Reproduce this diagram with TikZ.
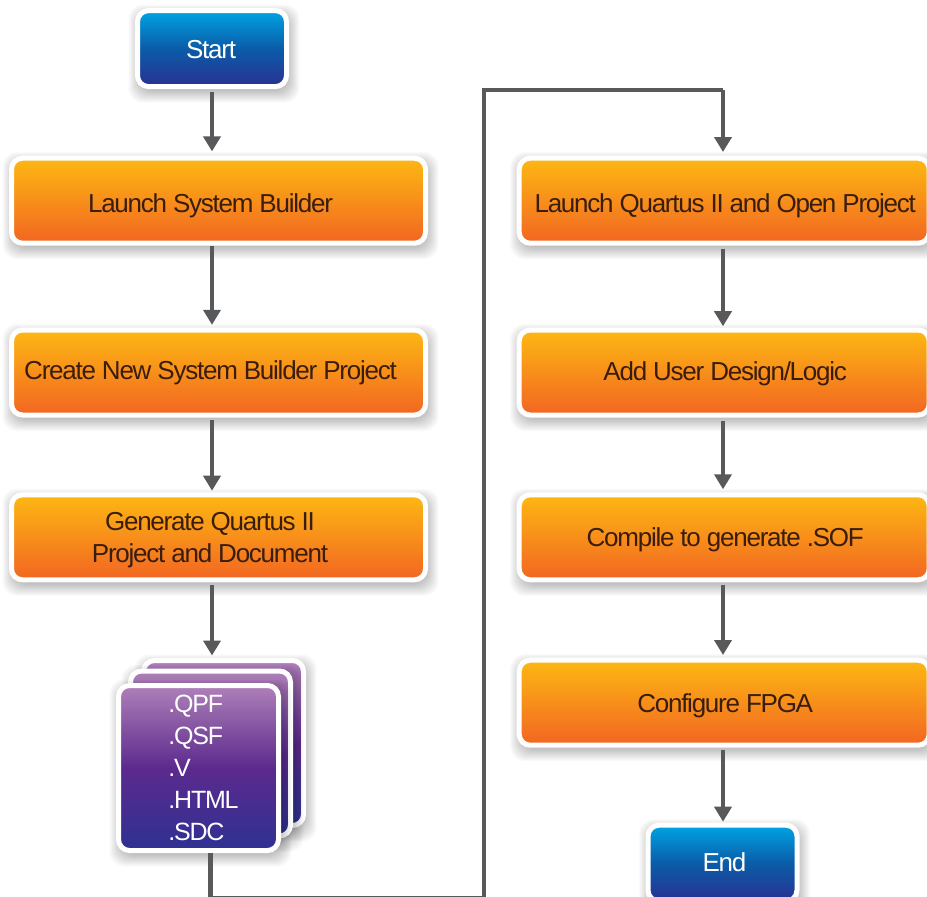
\documentclass[tikz,border=0pt]{standalone}
\usepackage{fontspec}
\setmainfont[LetterSpace=-4.8]{Liberation Sans}
\usetikzlibrary{arrows.meta}
\definecolor{orangetop}{HTML}{FDB813}
\definecolor{orangebot}{HTML}{F26522}
\definecolor{bluetop}{HTML}{00A4E4}
\definecolor{bluemid}{HTML}{0A5CA8}
\definecolor{bluebot}{HTML}{2A3192}
\definecolor{purpletop}{HTML}{AE80B8}
\definecolor{purplemid}{HTML}{5C2A8E}
\definecolor{purplebot}{HTML}{2E3192}
\definecolor{linegray}{HTML}{58595B}
\definecolor{darktext}{HTML}{3A1D0C}
\newcommand{\boxtext}[3]{\raisebox{#2}[0pt][0pt]{\hspace*{#1}#3}}
% soft shadow: centre x, centre y, path width, path height
\newcommand{\softshadow}[4]{%
  \foreach \r in {-4,...,11}{%
    \fill[black,opacity=0.021,rounded corners=14pt]
      ({#1-#3/2+2-\r},{#2-#4/2+5-\r}) rectangle ({#1+#3/2+2+\r},{#2+#4/2+5+\r});
  }}
\tikzset{
  basebox/.style={draw=white,line width=5pt,rounded corners=11pt,inner sep=0pt},
  orangebox/.style={basebox,top color=orangetop,bottom color=orangebot,text=darktext,minimum height=85pt,
     font=\fontsize{26}{31.5}\selectfont},
  leftbox/.style={orangebox,minimum width=414pt},
  rightbox/.style={orangebox,minimum width=410pt},
  bluebox/.style={basebox,top color=bluetop,bottom color=bluebot,middle color=bluemid,text=white,
     minimum width=149pt,minimum height=76pt,font=\fontsize{26}{31.5}\selectfont},
  purplebox/.style={basebox,top color=purpletop,bottom color=purplebot,middle color=purplemid,text=white,
     minimum width=160pt,minimum height=165pt,font=\fontsize{25}{31.8}\selectfont},
  flow/.style={draw=linegray,line width=4.5pt,-{Triangle[width=17pt,length=15pt]}},
  flowplain/.style={draw=linegray,line width=4.5pt}
}
\begin{document}
\begin{tikzpicture}[x=1pt,y=-1pt]
\useasboundingbox (0,0) rectangle (927,897);
\clip (0,0) rectangle (927,897);
\fill[white] (0,0) rectangle (927,897);
% left column
\softshadow{212}{48.6}{149}{76}
\node[bluebox] (start) at (212,48.6) {\boxtext{-2pt}{-9.4pt}{Start}};
\softshadow{218.5}{200.7}{414}{85}
\node[leftbox] (sb) at (218.5,200.7) {\boxtext{-16pt}{-12pt}{Launch System Builder}};
\softshadow{218.5}{372.5}{414}{85}
\node[leftbox] (create) at (218.5,372.5) {\boxtext{-16pt}{-6.8pt}{Create New System Builder Project}};
\softshadow{218.5}{537.3}{414}{85}
\node[leftbox] (gen) at (218.5,537.3) {\boxtext{-17pt}{-24.7pt}{\begin{tabular}[b]{@{}c@{}}Generate Quartus II\\Project and Document\end{tabular}}};
\softshadow{223.5}{743}{160}{165}
\node[purplebox] (pagethree) at (223.5,743) {};
\softshadow{210.5}{753.5}{160}{165}
\node[purplebox] (pagetwo) at (210.5,753.5) {};
\softshadow{198.5}{768}{160}{165}
\node[purplebox] (pageone) at (198.5,768) {\boxtext{10pt}{-72pt}{\begin{tabular}[b]{@{}l@{}}.QPF\\.QSF\\.V\\.HTML\\.SDC\end{tabular}}};
% right column
\softshadow{724.2}{200.7}{410}{85}
\node[rightbox] (quartus) at (724.2,200.7) {\boxtext{2pt}{-11.6pt}{Launch Quartus II and Open Project}};
\softshadow{724.2}{372.5}{410}{85}
\node[rightbox] (logic) at (724.2,372.5) {\boxtext{2pt}{-7.5pt}{Add User Design/Logic}};
\softshadow{724.2}{537.3}{410}{85}
\node[rightbox] (compile) at (724.2,537.3) {\boxtext{2pt}{-9.4pt}{Compile to generate .SOF}};
\softshadow{724.2}{702.7}{410}{85}
\node[rightbox] (fpga) at (724.2,702.7) {\boxtext{2pt}{-10pt}{Configure FPGA}};
\softshadow{722.5}{863.2}{149}{76}
\node[bluebox] (end) at (722.5,863.2) {\boxtext{4pt}{-8.5pt}{End}};
% free corners of the long connector
\coordinate (cornera) at (210.7,898);
\coordinate (cornerb) at (484,898);
\coordinate (cornerc) at (484,90);
\coordinate (cornerd) at (723,90);
% connectors
\draw[flow,shorten <=3pt,shorten >=4.3pt] (start.south) -- (start.south |- sb.north);
\draw[flow,shorten >=2.7pt] ([xshift=-6.5pt]sb.south) -- ([xshift=-6.5pt]create.north);
\draw[flow,shorten <=2.5pt,shorten >=1.6pt] ([xshift=-6.5pt]create.south) -- ([xshift=-6.5pt]gen.north);
\draw[flow,shorten <=3pt,shorten >=2.5pt] ([xshift=-6.5pt]gen.south) -- (pagethree.north -| start.south);
\draw[flowplain] (cornera |- pageone.south) -- (cornera) -- (cornerb) -- (cornerc) -- (cornerd);
\draw[flow,shorten >=3.7pt] (cornerd) -- (cornerd |- quartus.north);
\draw[flow,shorten <=3pt,shorten >=1.3pt] (cornerd |- quartus.south) -- (cornerd |- logic.north);
\draw[flow,shorten <=3pt,shorten >=3pt] (cornerd |- logic.south) -- (cornerd |- compile.north);
\draw[flow,shorten <=3pt,shorten >=2.7pt] (cornerd |- compile.south) -- (cornerd |- fpga.north);
\draw[flow,shorten <=2.5pt,shorten >=1pt] (cornerd |- fpga.south) -- (cornerd |- end.north);
\end{tikzpicture}
\end{document}
